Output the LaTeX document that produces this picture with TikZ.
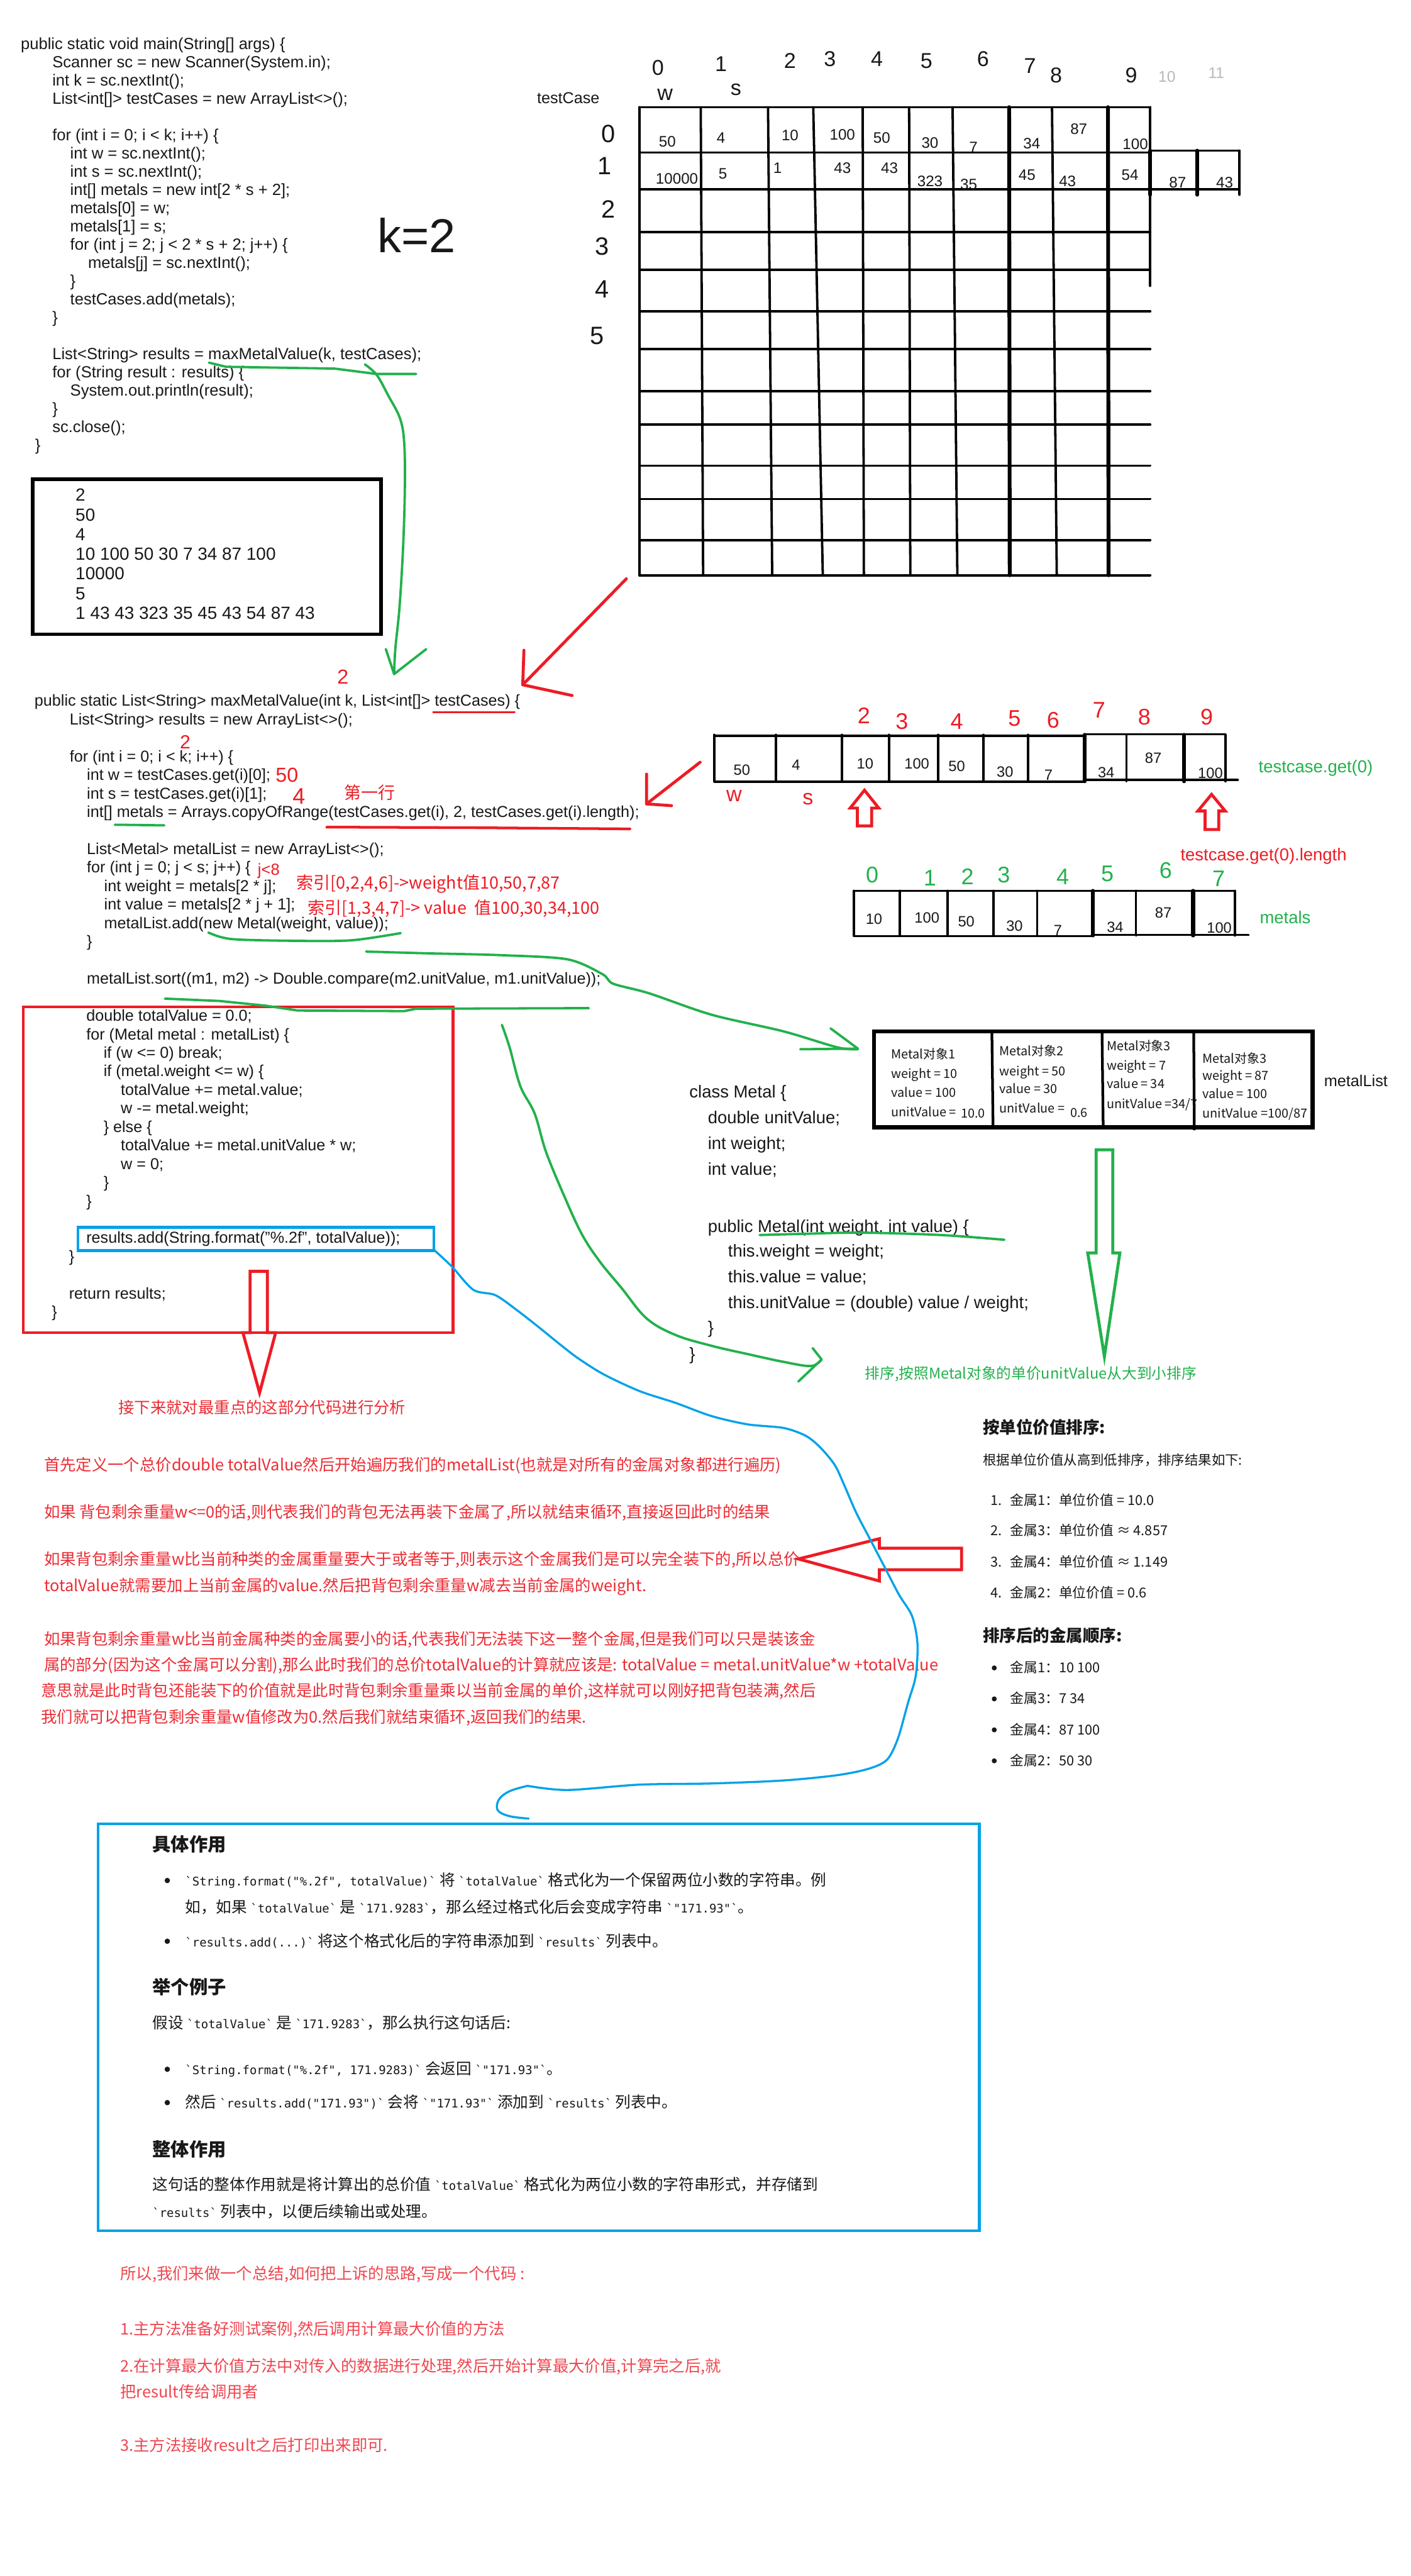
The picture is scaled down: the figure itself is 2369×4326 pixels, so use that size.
\documentclass[tikz,border=0pt]{standalone}
\usepackage{fontspec}
\setmainfont{Liberation Sans}
\setmonofont{DejaVu Sans Mono}
\newfontfamily\cjk{Noto Sans CJK SC}
\definecolor{pred}{RGB}{237,28,36}
\definecolor{pgreen}{RGB}{34,177,76}
\definecolor{pblue}{RGB}{0,162,232}
\definecolor{tred}{RGB}{236,44,52}
\definecolor{tredb}{RGB}{240,70,80}
\definecolor{ink}{RGB}{24,24,24}
\definecolor{lgray}{RGB}{185,185,185}
\newcommand\fsz[1]{\fontsize{#1}{#1}\selectfont}
\newcommand\mc[1]{{\ttfamily\fsz{20}#1}}
\tikzset{
  txt/.style={anchor=base west, inner sep=0pt, outer sep=0pt, text=ink},
  codetxt/.style={txt, font=\fsz{26.6}},
  maintxt/.style={txt, font=\fsz{27}},
  classtxt/.style={txt, font=\fsz{29}},
  celltxt/.style={txt, font=\cjk\fsz{21}},
  numtxt/.style={anchor=center, inner sep=0pt, text=ink, font=\fsz{25.5}},
  handtxt/.style={anchor=center, inner sep=0pt, text=ink, font=\fsz{36}},
  notetxt/.style={txt, text=pred, font=\cjk\fsz{28.5}},
  paratxt/.style={txt, text=tred, font=\cjk\fsz{26.8}},
  sumtxt/.style={txt, text=tredb, font=\cjk\fsz{26.8}},
  bluetxt/.style={txt, font=\cjk\fsz{26}},
  headtxt/.style={txt, font=\cjk\bfseries\fsz{31}},
  listtxt/.style={txt, font=\cjk\fsz{23}},
  listhead/.style={txt, font=\cjk\bfseries\fsz{28}},
  pen/.style={line width=4pt, line cap=round, line join=round},
  rpen/.style={pen, draw=pred, line width=5pt},
  gpen/.style={pen, draw=pgreen, line width=4pt},
  bpen/.style={pen, draw=pblue, line width=3.5pt},
  hollow/.style={line width=5pt, line join=miter},
}
\begin{document}
\begin{tikzpicture}[x=1pt,y=-1pt]
\fill[white] (0,0) rectangle (2369,4326);
\path[use as bounding box] (0,0) rectangle (2369,4326);

% ---------------- main method ----------------
\foreach \dx/\sl/\codeline in {
0/0/{public static void main(String[] args) \{},
53/1/{Scanner sc = new Scanner(System.in);},
53/2/{int k = sc.nextInt();},
53/3/{List<int[]> testCases = new ArrayList<>();},
53/5/{for (int i = 0; i < k; i++) \{},
83/6/{int w = sc.nextInt();},
83/7/{int s = sc.nextInt();},
83/8/{int[] metals = new int[2 * s + 2];},
83/9/{metals[0] = w;},
83/10/{metals[1] = s;},
83/11/{for (int j = 2; j < 2 * s + 2; j++) \{},
113/12/{metals[j] = sc.nextInt();},
83/13/{\}},
83/14/{testCases.add(metals);},
53/15/{\}},
53/17/{List<String> results = maxMetalValue(k, testCases);},
53/18/{for (String result : results) \{},
83/19/{System.out.println(result);},
53/20/{\}},
53/21/{sc.close();},
24/22/{\}}}
{\node[maintxt] (main-\sl) at ({35+\dx},{83+\sl*30.64}) {\codeline};}

\node[anchor=center, inner sep=0pt, text=ink, font=\fsz{80}] (ktwo) at (700,395) {k=2};

% input box
\draw[line width=6pt] (55,805) rectangle (640,1065);
\foreach \sl/\codeline in {0/2, 1/50, 2/4, 3/{10 100 50 30 7 34 87 100}, 4/10000, 5/5, 6/{1 43 43 323 35 45 43 54 87 43}}
{\node[txt, font=\fsz{29.5}] (in-\sl) at (127,{841.5+\sl*33}) {\codeline};}

% ---------------- testCase grid ----------------
\node[txt, font=\fsz{26.6}] (tclabel) at (902,174) {testCase};
\foreach \y in {180,256,318,390,453,523,586,657,713,782,838,907,966}
  \draw[pen] (1074,\y) -- (1932,\y);
\draw[pen] (1932,253) -- (2082,253);
\draw[pen] (1932,318) -- (2082,318);
\foreach \xt/\xb/\w in {1074/1074/4pt,1177/1181/4pt,1290/1297/4pt,1366/1382/4pt,1449/1451/4pt,1527/1529/4pt,1600/1608/4pt,1695/1696/6.5pt,1767/1775/4pt,1861/1862/6.5pt}
  \draw[pen, line width=\w] (\xt,180) -- (\xb,966);
\draw[pen] (1932,180) -- (1932,480);
\draw[pen, line width=6.5pt] (1932,253) -- (1932,327);
\draw[pen, line width=6.5pt] (2011,253) -- (2011,327);
\draw[pen] (2082,253) -- (2082,327);

\foreach \x/\y/\v [count=\i] in {1121/238/50, 1211/231/4, 1327/227/10, 1415/226/100, 1481/232/50, 1562/240/30, 1635/247/7, 1733/241/34, 1812/217/87, 1907/242/100, 1137/300/10000, 1214/292/5, 1306/282/1, 1415/282/43, 1494/282/43, 1562/304/323, 1627/310/35, 1725/294/45, 1793/304/43, 1898/294/54, 1978/306/87, 2057/306/43}
  \node[numtxt] (g-\i) at (\x,\y) {\v};

\foreach \x/\y/\v [count=\i] in {1105/114/0, 1117/159/w, 1211/108/1, 1236/150/s, 1327/102/2, 1394/99/3, 1473/99/4, 1556/102/5, 1651/99/6, 1730/111/7, 1774/126/8, 1900/126/9}
  \node[handtxt] (gi-\i) at (\x,\y) {\v};
\node[handtxt, text=lgray, font=\fsz{26}] (gi-13) at (1960,129) {10};
\node[handtxt, text=lgray, font=\fsz{26}] (gi-14) at (2043,123) {11};
\foreach \x/\y/\v [count=\i] in {1022/225/0, 1016/279/1, 1022/351/2, 1011/414/3, 1011/486/4, 1003/564/5}
  \node[handtxt, font=\fsz{42}] (gr-\i) at (\x,\y) {\v};

% red arrow grid -> method header
\draw[rpen] (1052,972) -- (878,1150);
\draw[rpen] (880,1092) -- (878,1150) -- (961,1168);

% green link main -> maxMetalValue
\draw[gpen] (351,609) -- (380,616) -- (562,619) -- (632,628) -- (699,628);
\draw[gpen] plot[smooth, tension=0.6] coordinates {(613,612) (633,630) (652,664) (672,703) (679,745) (680,820) (677,920) (671,1020) (664,1090) (662,1132)};
\draw[gpen] (648,1090) -- (662,1132) -- (716,1090);

% ---------------- maxMetalValue ----------------
\foreach \dx/\sl/\codeline in {
0/0/{public static List<String> maxMetalValue(int k, List<int[]> testCases) \{},
59/1/{List<String> results = new ArrayList<>();},
59/3/{for (int i = 0; i < k; i++) \{},
88/4/{int w = testCases.get(i)[0];},
88/5/{int s = testCases.get(i)[1];},
88/6/{int[] metals = Arrays.copyOfRange(testCases.get(i), 2, testCases.get(i).length);},
88/8/{List<Metal> metalList = new ArrayList<>();},
88/9/{for (int j = 0; j < s; j++) \{},
117/10/{int weight = metals[2 * j];},
117/11/{int value = metals[2 * j + 1];},
117/12/{metalList.add(new Metal(weight, value));},
88/13/{\}},
88/15/{metalList.sort((m1, m2) -> Double.compare(m2.unitValue, m1.unitValue));},
87/17/{double totalValue = 0.0;},
87/18/{for (Metal metal : metalList) \{},
116/19/{if (w <= 0) break;},
116/20/{if (metal.weight <= w) \{},
145/21/{totalValue += metal.value;},
145/22/{w -= metal.weight;},
116/23/{\} else \{},
145/24/{totalValue += metal.unitValue * w;},
145/25/{w = 0;},
116/26/{\}},
87/27/{\}},
87/29/{results.add(String.format("\%.2f", totalValue));},
58/30/{\}},
58/32/{return results;},
29/33/{\}}}
{\node[codetxt] (mm-\sl) at ({58+\dx},{1186+\sl*31.1}) {\codeline};}

% red handwritten notes
\node[handtxt, text=pred, font=\fsz{34}] (rtwoa) at (576,1137) {2};
\draw[rpen, line width=4pt] (728,1196) -- (864,1196);
\node[handtxt, text=pred, font=\fsz{32}] (rtwob) at (311,1246) {2};
\node[handtxt, text=pred, font=\fsz{34}] (rfifty) at (482,1302) {50};
\node[handtxt, text=pred, font=\fsz{38}] (rfour) at (502,1337) {4};
\node[notetxt] (rfirst) at (578,1342) {第一行};
\draw[gpen] (193,1385) -- (276,1386);
\draw[rpen, line width=4.5pt] (549,1389) -- (800,1390) -- (1058,1392);
\node[txt, text=pred, font=\fsz{27}] (rjeight) at (433,1470) {j<8};
\node[notetxt] (ridxa) at (498,1493) {索引[0,2,4,6]->weight值10,50,7,87};
\node[notetxt] (ridxb) at (517,1535) {索引[1,3,4,7]-> value\ \ 值100,30,34,100};
\draw[gpen] plot[smooth] coordinates {(350,1566) (389,1577) (500,1580) (591,1579) (673,1567)};

% red arrow array -> copyOfRange line
\draw[rpen] (1176,1280) -- (1086,1350);
\draw[rpen] (1086,1300) -- (1086,1350) -- (1128,1353);

% red box and blue highlight
\draw[pred, line width=4.5pt] (39,1691) rectangle (761,2238);
\draw[pblue, line width=4.5pt] (131,2061) rectangle (729,2100);

% ---------------- arrays on the right ----------------
\draw[pen] (1200,1236) -- (1822,1236);
\draw[pen] (1822,1233) -- (2058,1233);
\draw[pen] (1200,1313) -- (1822,1313);
\draw[pen] (1822,1310) -- (2079,1310);
\foreach \x/\w in {1200/4pt,1303/4pt,1414/4pt,1493/4pt,1576/4pt,1652/4pt,1727/4pt,1822/6.5pt,1892/4pt,1989/6.5pt,2058/4pt}
  \draw[pen, line width=\w] (\x,1234) -- (\x,1312);
\foreach \x/\y/\v [count=\i] in {1246/1293/50, 1337/1285/4, 1453/1282/10, 1540/1282/100, 1607/1287/50, 1688/1296/30, 1761/1302/7, 1858/1297/34, 1937/1273/87, 2033/1298/100}
  \node[numtxt, font=\fsz{25}] (ta-\i) at (\x,\y) {\v};
\foreach \x/\y/\v [count=\i] in {1451/1202/2, 1515/1211/3, 1607/1211/4, 1704/1206/5, 1769/1209/6, 1846/1192/7, 1922/1204/8, 2027/1204/9}
  \node[handtxt, text=pred, font=\fsz{38}] (tai-\i) at (\x,\y) {\v};
\node[handtxt, text=pred, font=\fsz{36}] (taw) at (1233,1337) {w};
\node[handtxt, text=pred, font=\fsz{36}] (tas) at (1357,1342) {s};
\draw[pred, hollow] (1440,1387) -- (1440,1357) -- (1428,1357) -- (1452,1327) -- (1476,1357) -- (1464,1357) -- (1464,1387) -- cycle;
\draw[pred, hollow] (2024,1393) -- (2024,1362) -- (2012,1362) -- (2035,1334) -- (2058,1362) -- (2047,1362) -- (2047,1393) -- cycle;
\node[txt, text=pgreen, font=\fsz{29}] (tcget) at (2114,1297) {testcase.get(0)};
\node[txt, text=pred, font=\fsz{29}] (tclen) at (1983,1445) {testcase.get(0).length};

\draw[pen] (1434,1496) -- (2074,1496);
\draw[pen] (1434,1572) -- (1836,1572);
\draw[pen] (1836,1570) -- (2097,1570);
\foreach \x/\w in {1434/4pt,1511/4pt,1592/4pt,1669/4pt,1742/4pt,1836/6.5pt,1908/4pt,2004/6.5pt,2074/4pt}
  \draw[pen, line width=\w] (\x,1496) -- (\x,1571);
\foreach \x/\y/\v [count=\i] in {1468/1543/10, 1557/1541/100, 1623/1548/50, 1704/1555/30, 1777/1562/7, 1873/1557/34, 1954/1533/87, 2048/1558/100}
  \node[numtxt, font=\fsz{25}] (mt-\i) at (\x,\y) {\v};
\foreach \x/\y/\v [count=\i] in {1465/1469/0, 1562/1474/1, 1625/1472/2, 1686/1469/3, 1785/1472/4, 1860/1467/5, 1958/1462/6, 2047/1476/7}
  \node[handtxt, text=pgreen, font=\fsz{38}] (mti-\i) at (\x,\y) {\v};
\node[txt, text=pgreen, font=\fsz{29}] (mlabel) at (2116,1551) {metals};

% ---------------- Metal objects ----------------
\draw[gpen] plot[smooth, tension=0.5] coordinates {(615,1598) (720,1601) (840,1604) (953,1611) (1012,1636) (1030,1652) (1090,1668) (1195,1704) (1316,1732) (1407,1759) (1441,1762)};
\draw[gpen] (1395,1727) -- (1441,1761) -- (1344,1762);

\draw[line width=7pt] (1468,1732) rectangle (2205,1893);
\draw[line width=4.5pt] (1666,1732) -- (1668,1893);
\draw[line width=4.5pt] (1851,1732) -- (1853,1893);
\draw[line width=4.5pt] (2005,1732) -- (2006,1898);
\node[celltxt] (ca-1) at (1497,1778) {Metal对象1};
\node[celltxt] (ca-2) at (1497,1811) {weight = 10};
\node[celltxt] (ca-3) at (1497,1842) {value = 100};
\node[celltxt] (ca-4) at (1497,1875) {unitValue =};
\node[celltxt] (ca-5) at (1614,1877) {10.0};
\node[celltxt] (cb-1) at (1679,1773) {Metal对象2};
\node[celltxt] (cb-2) at (1679,1806) {weight = 50};
\node[celltxt] (cb-3) at (1679,1836) {value = 30};
\node[celltxt] (cb-4) at (1679,1869) {unitValue =};
\node[celltxt] (cb-5) at (1798,1876) {0.6};
\node[celltxt] (cc-1) at (1859,1764) {Metal对象3};
\node[celltxt] (cc-2) at (1859,1797) {weight = 7};
\node[celltxt] (cc-3) at (1859,1828) {value = 34};
\node[celltxt] (cc-4) at (1859,1861) {unitValue =34/7};
\node[celltxt] (cd-1) at (2020,1785) {Metal对象3};
\node[celltxt] (cd-2) at (2020,1814) {weight = 87};
\node[celltxt] (cd-3) at (2020,1845) {value = 100};
\node[celltxt] (cd-4) at (2020,1877) {unitValue =100/87};
\node[txt, font=\fsz{26.7}] (mlist) at (2224,1824) {metalList};

% class Metal
\foreach \dx/\yy/\codeline [count=\i] in {
0/1844/{class Metal \{},
31/1887/{double unitValue;},
31/1930/{int weight;},
31/1973/{int value;},
31/2069/{public Metal(int weight, int value) \{},
65/2111/{this.weight = weight;},
65/2154/{this.value = value;},
65/2197/{this.unitValue = (double) value / weight;},
31/2240/{\}},
0/2284/{\}}}
{\node[classtxt] (cls-\i) at ({1158+\dx},\yy) {\codeline};}
\draw[gpen] plot[smooth] coordinates {(1276,2074) (1351,2072) (1446,2070) (1580,2074) (1687,2082)};

% green hollow arrow + sort label
\draw[pgreen, hollow] (1841,1931) -- (1869,1931) -- (1869,2104) -- (1881,2104) -- (1855,2278) -- (1827,2104) -- (1841,2104) -- cycle;
\node[txt, text=pgreen, font=\cjk\fsz{25}] (sortlabel) at (1453,2316) {排序,按照Metal对象的单价unitValue从大到小排序};

% green link sort line -> label
\draw[gpen] (277,1677) -- (369,1681) -- (447,1689) -- (500,1697) -- (679,1698) -- (699,1694) -- (989,1693);
\draw[gpen] plot[smooth, tension=0.6] coordinates {(843,1721) (856,1759) (874,1824) (898,1870) (917,1934) (947,2007) (977,2072) (1007,2118) (1044,2163) (1086,2214) (1135,2242) (1195,2260) (1256,2274) (1316,2287) (1362,2294) (1380,2283)};
\draw[gpen] (1365,2264) -- (1380,2283) -- (1341,2320);

% ---------------- analysis text ----------------
\draw[pred, hollow] (420,2135) -- (449,2135) -- (449,2238) -- (463,2238) -- (436,2339) -- (408,2238) -- (420,2238) -- cycle;
\node[paratxt] (nextline) at (199,2374) {接下来就对最重点的这部分代码进行分析};
\node[paratxt] (pa-1) at (74,2470) {首先定义一个总价double totalValue然后开始遍历我们的metalList(也就是对所有的金属对象都进行遍历)};
\node[paratxt] (pa-2) at (74,2549) {如果 背包剩余重量w<=0的话,则代表我们的背包无法再装下金属了,所以就结束循环,直接返回此时的结果};
\node[paratxt] (pa-3) at (74,2628) {如果背包剩余重量w比当前种类的金属重量要大于或者等于,则表示这个金属我们是可以完全装下的,所以总价};
\node[paratxt] (pa-4) at (74,2673) {totalValue就需要加上当前金属的value.然后把背包剩余重量w减去当前金属的weight.};
\node[paratxt] (pa-5) at (74,2762) {如果背包剩余重量w比当前金属种类的金属要小的话,代表我们无法装下这一整个金属,但是我们可以只是装该金};
\node[paratxt] (pa-6) at (74,2806) {属的部分(因为这个金属可以分割),那么此时我们的总价totalValue的计算就应该是: totalValue = metal.unitValue*w +totalValue};
\node[paratxt] (pa-7) at (69,2849) {意思就是此时背包还能装下的价值就是此时背包剩余重量乘以当前金属的单价,这样就可以刚好把背包装满,然后};
\node[paratxt] (pa-8) at (69,2893) {我们就可以把背包剩余重量w值修改为0.然后我们就结束循环,返回我们的结果.};
\draw[pred, hollow] (1615,2600) -- (1477,2600) -- (1477,2584) -- (1341,2618) -- (1477,2655) -- (1477,2636) -- (1615,2636) -- cycle;

% sorted result list
\node[listhead] (lh-1) at (1651,2407) {按单位价值排序:};
\node[listtxt, font=\cjk\fsz{22.6}] (lsub) at (1651,2460) {根据单位价值从高到低排序，排序结果如下:};
\foreach \yy/\n/\codeline in {2528/1./{金属1：单位价值 = 10.0}, 2579/2./{金属3：单位价值 ≈ 4.857}, 2631/3./{金属4：单位价值 ≈ 1.149}, 2683/4./{金属2：单位价值 = 0.6}}
{\node[listtxt] (ln-\yy) at (1664,\yy) {\n};
 \node[listtxt] (lt-\yy) at (1697,\yy) {\codeline};}
\node[listhead] (lh-2) at (1651,2757) {排序后的金属顺序:};
\foreach \yy/\codeline in {2801/{金属1：10 100}, 2853/{金属3：7 34}, 2905/{金属4：87 100}, 2957/{金属2：50 30}}
{\fill[ink] (1670,\yy) circle (4.2);
 \node[listtxt] (lb-\yy) at (1697,{\yy+8}) {\codeline};}

% blue link
\draw[bpen] plot[smooth, tension=0.5] coordinates {(729,2099) (759,2127) (795,2166) (832,2175) (868,2200) (904,2228) (941,2258) (971,2281) (1014,2308) (1074,2336) (1135,2356) (1195,2378) (1256,2392) (1316,2398) (1353,2411) (1377,2430) (1402,2460) (1418,2494) (1438,2540) (1462,2586) (1486,2632) (1510,2678) (1532,2714) (1541,2760) (1538,2815) (1525,2860) (1508,2920) (1490,2955) (1460,2970) (1407,2981) (1316,2990) (1195,2995) (1074,2997) (953,3006) (886,2999)};
\draw[bpen] plot[smooth, tension=0.6] coordinates {(886,2999) (856,3008) (838,3022) (836,3040) (856,3050) (888,3054)};

% ---------------- blue box ----------------
\draw[pblue, line width=4.5pt] (165,3063) rectangle (1645,3746);
\node[headtxt] (bh-1) at (256,3109) {具体作用};
\fill[ink] (281,3158) circle (4.5);
\node[bluetxt] (bl-1) at (311,3167) {\mc{`String.format("\%.2f", totalValue)`} 将 \mc{`totalValue`} 格式化为一个保留两位小数的字符串。例};
\node[bluetxt] (bl-2) at (311,3212) {如，如果 \mc{`totalValue`} 是 \mc{`171.9283`}，那么经过格式化后会变成字符串 \mc{`"171.93"`}。};
\fill[ink] (281,3260) circle (4.5);
\node[bluetxt] (bl-3) at (311,3269) {\mc{`results.add(...)`} 将这个格式化后的字符串添加到 \mc{`results`} 列表中。};
\node[headtxt] (bh-2) at (256,3349) {举个例子};
\node[bluetxt] (bl-4) at (256,3407) {假设 \mc{`totalValue`} 是 \mc{`171.9283`}，那么执行这句话后:};
\fill[ink] (281,3475) circle (4.5);
\node[bluetxt] (bl-5) at (311,3484) {\mc{`String.format("\%.2f", 171.9283)`} 会返回 \mc{`"171.93"`}。};
\fill[ink] (281,3531) circle (4.5);
\node[bluetxt] (bl-6) at (311,3540) {然后 \mc{`results.add("171.93")`} 会将 \mc{`"171.93"`} 添加到 \mc{`results`} 列表中。};
\node[headtxt] (bh-3) at (256,3621) {整体作用};
\node[bluetxt] (bl-7) at (256,3678) {这句话的整体作用就是将计算出的总价值 \mc{`totalValue`} 格式化为两位小数的字符串形式，并存储到};
\node[bluetxt] (bl-8) at (256,3723) {\mc{`results`} 列表中，以便后续输出或处理。};

% ---------------- summary ----------------
\node[sumtxt] (sm-1) at (202,3828) {所以,我们来做一个总结,如何把上诉的思路,写成一个代码 :};
\node[sumtxt] (sm-2) at (202,3921) {1.主方法准备好测试案例,然后调用计算最大价值的方法};
\node[sumtxt] (sm-3) at (202,3983) {2.在计算最大价值方法中对传入的数据进行处理,然后开始计算最大价值,计算完之后,就};
\node[sumtxt] (sm-4) at (202,4027) {把result传给调用者};
\node[sumtxt] (sm-5) at (202,4116) {3.主方法接收result之后打印出来即可.};
\end{tikzpicture}
\end{document}
